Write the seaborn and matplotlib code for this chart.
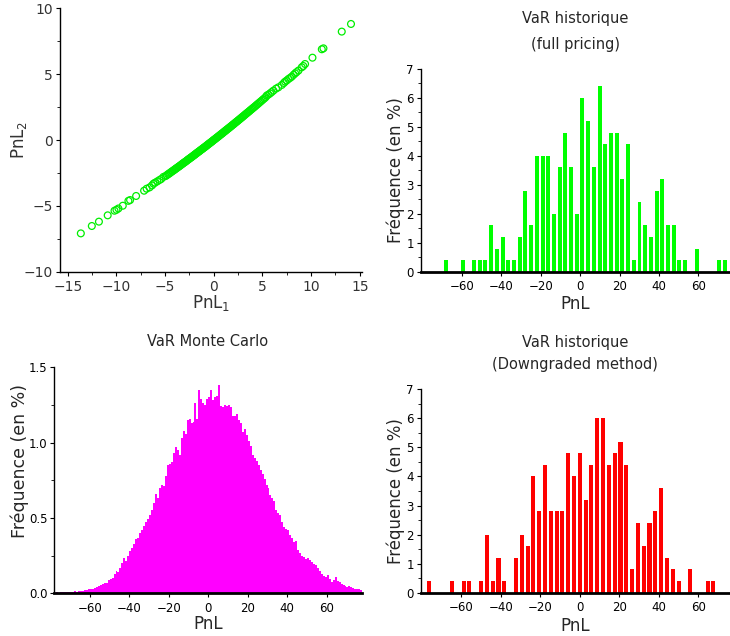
import numpy as np
import matplotlib
matplotlib.use("Agg")
import matplotlib.pyplot as plt
import seaborn as sns
from matplotlib.ticker import MultipleLocator, FormatStrFormatter

# ---------------------------------------------------------------------------
# Data
# ---------------------------------------------------------------------------
# PnL of the two portfolios on each historical scenario
pnl1 = [
    -13.66, -12.53, -11.8, -10.9, -10.2, -10.0, -9.8, -9.35, -8.77, -8.6,
    -7.98, -7.16, -6.9, -6.6, -6.35, -6.2, -6.03, -5.8, -5.58, -5.4, -5.17,
    -4.95, -4.82, -4.7, -4.61, -4.5, -4.41, -4.3, -4.22, -4.1, -4.03, -3.94,
    -3.85, -3.77, -3.66, -3.58, -3.49, -3.4, -3.31, -3.22, -3.15, -3.06,
    -2.98, -2.9, -2.81, -2.73, -2.64, -2.57, -2.49, -2.4, -2.33, -2.25,
    -2.16, -2.08, -2.0, -1.93, -1.85, -1.76, -1.69, -1.6, -1.52, -1.45,
    -1.37, -1.28, -1.2, -1.13, -1.05, -0.97, -0.9, -0.81, -0.74, -0.66,
    -0.58, -0.5, -0.43, -0.35, -0.27, -0.2, -0.12, -0.04, 0.03, 0.11, 0.19,
    0.26, 0.34, 0.42, 0.5, 0.57, 0.65, 0.73, 0.81, 0.88, 0.96, 1.04, 1.12,
    1.2, 1.27, 1.35, 1.44, 1.52, 1.6, 1.68, 1.77, 1.85, 1.94, 2.02, 2.1,
    2.19, 2.28, 2.36, 2.45, 2.54, 2.63, 2.72, 2.81, 2.9, 2.99, 3.08, 3.18,
    3.27, 3.37, 3.47, 3.57, 3.67, 3.77, 3.88, 3.98, 4.09, 4.2, 4.31, 4.43,
    4.55, 4.67, 4.8, 4.93, 5.06, 5.2, 5.33,
    5.45, 5.62, 5.79, 5.95, 6.13, 6.4, 6.64, 6.99, 7.2, 7.33, 7.5, 7.67,
    7.85, 8.01, 8.2, 8.36, 8.5, 8.7, 9.04, 9.2, 9.38, 10.14, 11.1, 11.27,
    13.15, 14.1,
]
pnl2 = [
    -7.09, -6.53, -6.2, -5.72, -5.37, -5.3, -5.2, -4.99, -4.62, -4.56,
    -4.25, -3.85, -3.7, -3.6, -3.45, -3.32, -3.24, -3.14, -3.04, -2.96, -2.8,
    -2.74, -2.67, -2.60, -2.56, -2.50, -2.45, -2.39, -2.35, -2.29, -2.25,
    -2.20, -2.15, -2.11, -2.05, -2.01, -1.96, -1.91, -1.86, -1.81, -1.77,
    -1.72, -1.68, -1.64, -1.59, -1.54, -1.49, -1.45, -1.41, -1.36, -1.32,
    -1.28, -1.23, -1.18, -1.14, -1.10, -1.05, -1.00, -0.96, -0.91, -0.87,
    -0.83, -0.78, -0.73, -0.69, -0.65, -0.60, -0.56, -0.52, -0.47, -0.43,
    -0.38, -0.33, -0.29, -0.25, -0.20, -0.16, -0.12, -0.07, -0.02, 0.02,
    0.06, 0.11, 0.15, 0.20, 0.24, 0.29, 0.33, 0.38, 0.43, 0.47, 0.51, 0.56,
    0.61, 0.66, 0.70, 0.75, 0.79, 0.85, 0.89, 0.94, 0.99, 1.04, 1.09, 1.15,
    1.19, 1.24, 1.30, 1.35, 1.40, 1.45, 1.51, 1.56, 1.62, 1.67, 1.73, 1.78,
    1.84, 1.90, 1.96, 2.02, 2.08, 2.14, 2.20, 2.27, 2.33, 2.40, 2.46, 2.53,
    2.60, 2.68, 2.75, 2.83, 2.91, 2.99, 3.08, 3.16, 3.25,
    3.38, 3.45, 3.54, 3.64, 3.75, 3.9, 4.0, 4.18, 4.33, 4.43, 4.52, 4.63,
    4.72, 4.81, 4.95, 5.06, 5.15, 5.27, 5.52, 5.62, 5.77, 6.25, 6.89, 6.96,
    8.23, 8.81,
]

# Historical VaR, full pricing: frequency (%) per bin, 50 bins
full_lo, full_hi = -69.85, 74.95
full_freq = [
    0.4, 0, 0, 0.4, 0, 0.4, 0.4, 0.4, 1.6, 0.8,
    1.2, 0.4, 0.4, 1.2, 2.8, 1.6, 4.0, 4.0, 4.0, 2.0,
    3.6, 4.8, 3.6, 2.0, 6.0, 5.2, 3.6, 6.4, 4.4, 4.8,
    4.8, 3.2, 4.4, 0.4, 2.4, 1.6, 1.2, 2.8, 3.2, 1.6,
    1.6, 0.4, 0.4, 0, 0.8, 0, 0, 0, 0.4, 0.4,
]

# Historical VaR, downgraded method: frequency (%) per bin, 50 bins
down_lo, down_hi = -77.87, 69.07
down_freq = [
    0.4, 0, 0, 0, 0.4, 0, 0.4, 0.4, 0, 0.4,
    2.0, 0.4, 1.2, 0.4, 0, 1.2, 2.0, 1.6, 4.0, 2.8,
    4.4, 2.8, 2.8, 2.8, 4.8, 4.0, 4.8, 3.2, 4.4, 6.0,
    6.0, 4.4, 4.8, 5.2, 4.4, 0.8, 2.4, 1.6, 2.4, 2.8,
    3.6, 1.2, 0.8, 0.4, 0, 0.8, 0, 0, 0.4, 0.4,
]

# Monte Carlo VaR: frequency (%) per unit-width bin from -78 to 78
mc_lo, mc_hi = -78, 78
mc_freq = [
    0.005, 0.006, 0.005, 0.006, 0.007, 0.006, 0.008, 0.009, 0.010, 0.008,
    0.012, 0.011, 0.014, 0.016, 0.015, 0.020, 0.024, 0.027, 0.026, 0.030,
    0.038, 0.042, 0.047, 0.058, 0.064, 0.068, 0.066, 0.085, 0.092, 0.100,
    0.130, 0.145, 0.140, 0.165, 0.200, 0.235, 0.215, 0.250, 0.280, 0.300,
    0.330, 0.360, 0.370, 0.400, 0.420, 0.450, 0.470, 0.490, 0.520, 0.550,
    0.600, 0.660, 0.635, 0.700, 0.720, 0.710, 0.780, 0.850, 0.860, 0.870,
    0.930, 0.970, 0.950, 0.920, 1.030, 1.080, 1.060, 1.150, 1.160, 1.130,
    1.140, 1.260, 1.160, 1.350, 1.290, 1.260, 1.250, 1.290, 1.300, 1.350,
    1.280, 1.300, 1.310, 1.380, 1.240, 1.235, 1.250, 1.240, 1.250, 1.235,
    1.180, 1.180, 1.190, 1.150, 1.130, 1.070, 1.090, 1.050, 1.010, 0.980,
    0.920, 0.900, 0.880, 0.850, 0.820, 0.790, 0.760, 0.720, 0.700, 0.650,
    0.630, 0.610, 0.550, 0.530, 0.520, 0.470, 0.440, 0.430, 0.420, 0.390,
    0.370, 0.340, 0.350, 0.290, 0.270, 0.250, 0.240, 0.225, 0.235, 0.220,
    0.210, 0.195, 0.185, 0.165, 0.145, 0.130, 0.115, 0.110, 0.120, 0.095,
    0.075, 0.090, 0.105, 0.080, 0.072, 0.060, 0.058, 0.050, 0.045, 0.047,
    0.044, 0.038, 0.030, 0.028, 0.026, 0.022,
]

GREEN = "#00ee00"
RED = "#ff0000"
MAGENTA = "#ff00ff"

sns.set_theme(style="white")
plt.rcParams["font.family"] = ["DejaVu Sans"]

W, H = 730, 636
fig = plt.figure(figsize=(W / 100, H / 100), dpi=100)


def px_axes(left, top, right, bottom):
    return fig.add_axes([left / W, 1 - bottom / H, (right - left) / W, (bottom - top) / H])


def style_axes(ax, tick_size, color="black", bottom_lw=1.0):
    ax.spines[["top", "right"]].set_visible(False)
    ax.spines["left"].set_color("black")
    ax.spines["left"].set_linewidth(1.0)
    ax.spines["bottom"].set_color("black")
    ax.spines["bottom"].set_linewidth(bottom_lw)
    ax.tick_params(which="major", direction="out", length=3, width=0.8,
                   color="black", labelsize=tick_size, labelcolor=color)
    ax.tick_params(which="minor", direction="out", length=2, width=0.6, color="black")
    ax.tick_params(axis="y", which="both", left=True, pad=2)
    ax.tick_params(axis="x", which="both", bottom=True, pad=3)
    ax.grid(False)


def place_labels(ax, xlab_y, ylab_x, ylab_y=0.5):
    # label coordinates are the centres of the label texts, in axes units
    ax.xaxis.label.set_verticalalignment("center")
    ax.yaxis.label.set_verticalalignment("center")
    ax.xaxis.set_label_coords(0.5, xlab_y)
    ax.yaxis.set_label_coords(ylab_x, ylab_y)


def bin_centers(lo, hi, n):
    w = (hi - lo) / n
    return lo + w * (np.arange(n) + 0.5)


# --- PnL2 vs PnL1 scatter --------------------------------------------------
ax1 = px_axes(60, 8.3, 361.7, 271.7)
sns.scatterplot(x=pnl1, y=pnl2, ax=ax1, marker="o", s=24,
                facecolor="none", edgecolor=GREEN, linewidth=0.9)
ax1.set_xlim(-15.8, 15.2)
ax1.set_ylim(-10, 10)
ax1.xaxis.set_major_locator(MultipleLocator(5))
ax1.yaxis.set_major_locator(MultipleLocator(5))
ax1.xaxis.set_minor_locator(MultipleLocator(2.5))
ax1.yaxis.set_minor_locator(MultipleLocator(2.5))
style_axes(ax1, 10, color="#333333")
ax1.set_xlabel(r"PnL$_1$", fontsize=12, color="#333333")
ax1.set_ylabel(r"PnL$_2$", fontsize=12, color="#333333")
place_labels(ax1, -0.12, -0.1375)


def hist_panel(ax, centers, freq, bins, lo, hi, color, shrink):
    sns.histplot(x=centers, weights=freq, bins=bins, binrange=(lo, hi),
                 shrink=shrink, color=color, alpha=1, linewidth=0, ax=ax)


# --- Historical VaR, full pricing ------------------------------------------
ax2 = px_axes(420.7, 69, 730, 271.7)
hist_panel(ax2, bin_centers(full_lo, full_hi, 50), full_freq, 50,
           full_lo, full_hi, "#00ff00", 0.7)
ax2.set_xlim(-81, 76)
ax2.set_ylim(0, 7)
ax2.xaxis.set_major_locator(MultipleLocator(20))
ax2.yaxis.set_major_locator(MultipleLocator(1))
ax2.yaxis.set_minor_locator(MultipleLocator(0.5))
style_axes(ax2, 8.5, bottom_lw=2.0)
ax2.set_xlabel("PnL", fontsize=12)
ax2.set_ylabel("Fréquence (en %)", fontsize=12)
place_labels(ax2, -0.16, -0.0815)

# --- Monte Carlo VaR -------------------------------------------------------
ax3 = px_axes(54.3, 367.3, 361.7, 593.3)
hist_panel(ax3, bin_centers(mc_lo, mc_hi, len(mc_freq)), mc_freq, len(mc_freq),
           mc_lo, mc_hi, MAGENTA, 1.0)
ax3.set_xlim(-78, 77.7)
ax3.set_ylim(0, 1.5)
ax3.xaxis.set_major_locator(MultipleLocator(20))
ax3.yaxis.set_major_locator(MultipleLocator(0.5))
ax3.yaxis.set_minor_locator(MultipleLocator(0.25))
ax3.yaxis.set_major_formatter(FormatStrFormatter("%.1f"))
style_axes(ax3, 8.5, bottom_lw=2.0)
ax3.set_xlabel("PnL", fontsize=12)
ax3.set_ylabel("Fréquence (en %)", fontsize=12.5)
place_labels(ax3, -0.136, -0.113, 0.585)

# --- Historical VaR, downgraded method -------------------------------------
ax4 = px_axes(420.7, 389.3, 730, 592.7)
hist_panel(ax4, bin_centers(down_lo, down_hi, 50), down_freq, 50,
           down_lo, down_hi, RED, 0.7)
ax4.set_xlim(-80.5, 76)
ax4.set_ylim(0, 7)
ax4.xaxis.set_major_locator(MultipleLocator(20))
ax4.yaxis.set_major_locator(MultipleLocator(1))
ax4.yaxis.set_minor_locator(MultipleLocator(0.5))
style_axes(ax4, 8.5, bottom_lw=2.0)
ax4.set_xlabel("PnL", fontsize=12)
ax4.set_ylabel("Fréquence (en %)", fontsize=12)
place_labels(ax4, -0.164, -0.0815)

for ax in (ax2, ax3, ax4):
    ax.set_xticks([-60, -40, -20, 0, 20, 40, 60])

# --- Titles ---------------------------------------------------------------
def title_line(x, y, text):
    fig.text(x / W, 1 - y / H, text, ha="center", va="center", fontsize=10.5)

title_line(575.4, 18, "VaR historique")
title_line(575.4, 44, "(full pricing)")
title_line(208, 342, "VaR Monte Carlo")
title_line(575.4, 342, "VaR historique")
title_line(575.4, 365, "(Downgraded method)")

fig.savefig("out.png", dpi=100)
